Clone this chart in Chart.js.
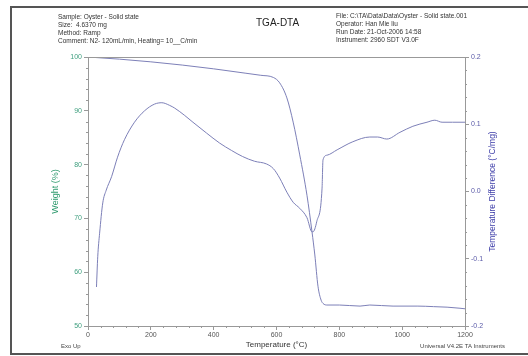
<!DOCTYPE html>
<html>
<head>
<meta charset="utf-8">
<script src="https://cdn.jsdelivr.net/npm/chart.js@4"></script>
<style>
html, body { margin: 0; padding: 0; background: #fff; }
#wrap { position: relative; width: 528px; height: 356px; }
</style>
</head>
<body>
<div id="wrap"><canvas id="chart_tgaDta" width="528" height="356"></canvas></div>
<script>
// TGA curve (weight, left axis)
var tgaTemp = [0, 100, 200, 300, 400, 500, 550, 590, 610, 633, 653, 674, 697, 713, 722, 732, 742, 748, 760, 800, 866, 897, 971, 1050, 1100, 1143, 1184, 1200];
var tgaWeight = [100, 99.6, 99.1, 98.5, 97.8, 97.0, 96.6, 96.2, 95.2, 92.4, 87.9, 81.8, 74.3, 67.5, 63.2, 57.4, 54.8, 54.2, 53.9, 53.9, 53.7, 53.9, 53.7, 53.7, 53.6, 53.5, 53.3, 53.2];

// DTA curve (temperature difference, right axis)
var dtaTemp = [27, 31, 37, 47, 58, 75, 94, 116, 148, 180, 212, 235, 260, 276, 308, 334, 377, 419, 457, 492, 530, 568, 590, 610, 633, 653, 674, 697, 713, 716, 728, 745, 748, 761, 793, 843, 897, 922, 951, 993, 1034, 1079, 1104, 1127, 1160, 1200];
var dtaDiff = [-0.142, -0.097, -0.062, -0.017, 0.002, 0.022, 0.051, 0.077, 0.103, 0.120, 0.130, 0.132, 0.128, 0.124, 0.113, 0.103, 0.087, 0.072, 0.061, 0.052, 0.045, 0.041, 0.034, 0.020, -0.001, -0.016, -0.025, -0.039, -0.060, -0.060, -0.045, 0.005, 0.047, 0.054, 0.062, 0.074, 0.081, 0.081, 0.078, 0.088, 0.097, 0.103, 0.106, 0.103, 0.103, 0.103];

var tempTicks = [0, 200, 400, 600, 800, 1000, 1200];
var weightTicks = [50, 60, 70, 80, 90, 100];
var dtaTicks = [-0.2, -0.1, 0, 0.1, 0.2];

var headerLeft = ['Sample: Oyster - Solid state', 'Size:  4.6370 mg', 'Method: Ramp', 'Comment: N2- 120mL/min, Heating= 10__C/min'];
var headerRight = ['File: C:\\TA\\Data\\Data\\Oyster - Solid state.001', 'Operator: Han Mie liu', 'Run Date: 21-Oct-2006 14:58', 'Instrument: 2960 SDT V3.0F'];

Chart.defaults.font.family = '"Liberation Sans", Arial, sans-serif';

function toPoints(xs, ys) {
    return xs.map(function (x, i) { return { x: x, y: ys[i] }; });
}

function minorTicks(ctx, scale, from, to, step, majors, side) {
    var area = scale.chart.chartArea;
    for (var v = from; v <= to + step / 2; v += step) {
        var val = Math.round(v * 1000) / 1000;
        if (majors.indexOf(val) >= 0) continue;
        var p = Math.round(scale.getPixelForValue(val)) + 0.5;
        ctx.beginPath();
        if (side === 'bottom') { ctx.moveTo(p, area.bottom); ctx.lineTo(p, area.bottom + 2); }
        if (side === 'left') { ctx.moveTo(area.left, p); ctx.lineTo(area.left - 2, p); }
        if (side === 'right') { ctx.moveTo(area.right, p); ctx.lineTo(area.right + 2, p); }
        ctx.stroke();
    }
}

var decorPlugin = {
    id: 'decor',
    beforeDraw: function (chart) {
        var ctx = chart.ctx;
        ctx.save();
        ctx.fillStyle = '#fff';
        ctx.fillRect(0, 0, chart.width, chart.height);
        ctx.strokeStyle = '#555';
        ctx.lineWidth = 2;
        ctx.beginPath();
        ctx.moveTo(532, 7);
        ctx.lineTo(11, 7);
        ctx.lineTo(11, 354);
        ctx.lineTo(532, 354);
        ctx.stroke();
        ctx.restore();
    },
    afterDraw: function (chart) {
        var ctx = chart.ctx;
        var area = chart.chartArea;
        ctx.save();
        // top border of plot
        ctx.strokeStyle = '#999';
        ctx.lineWidth = 1;
        ctx.beginPath();
        ctx.moveTo(area.left, area.top + 0.5);
        ctx.lineTo(area.right, area.top + 0.5);
        ctx.stroke();
        minorTicks(ctx, chart.scales.x, 0, 1200, 40, tempTicks, 'bottom');
        minorTicks(ctx, chart.scales.y, 50, 100, 2, weightTicks, 'left');
        minorTicks(ctx, chart.scales.y2, -0.2, 0.2, 0.02, dtaTicks, 'right');

        // header
        ctx.fillStyle = '#333';
        ctx.textBaseline = 'middle';
        ctx.font = '6.5px "Liberation Sans", Arial, sans-serif';
        headerLeft.forEach(function (t, i) { ctx.fillText(t, 58, 17 + i * 8); });
        headerRight.forEach(function (t, i) { ctx.fillText(t, 336, 16 + i * 8); });
        ctx.font = '10px "Liberation Sans", Arial, sans-serif';
        ctx.fillStyle = '#222';
        ctx.fillText('TGA-DTA', 256, 23);

        // footer
        ctx.fillStyle = '#444';
        ctx.font = '6px "Liberation Sans", Arial, sans-serif';
        ctx.fillText('Exo Up', 61, 346);
        ctx.textAlign = 'right';
        ctx.fillText('Universal V4.2E TA Instruments', 505, 346);

        // right axis title, reading upward
        ctx.translate(493, (area.top + area.bottom) / 2);
        ctx.rotate(-Math.PI / 2);
        ctx.textAlign = 'center';
        ctx.fillStyle = '#3c3ca8';
        ctx.font = '8.5px "Liberation Sans", Arial, sans-serif';
        ctx.fillText('Temperature Difference (\u00b0C/mg)', 0, 0);
        ctx.restore();
    }
};

var lineColor = '#7d80b8';

var chart_tgaDta = new Chart(document.getElementById('chart_tgaDta'), {
    type: 'line',
    data: {
        datasets: [
            {
                label: 'Weight',
                data: toPoints(tgaTemp, tgaWeight),
                yAxisID: 'y',
                borderColor: lineColor,
                borderWidth: 1,
                pointRadius: 0,
                cubicInterpolationMode: 'monotone'
            },
            {
                label: 'Temperature Difference',
                data: toPoints(dtaTemp, dtaDiff),
                yAxisID: 'y2',
                borderColor: lineColor,
                borderWidth: 1,
                pointRadius: 0,
                cubicInterpolationMode: 'monotone'
            }
        ]
    },
    options: {
        animation: false,
        responsive: false,
        devicePixelRatio: 1,
        layout: { padding: { left: 48, right: 28, top: 57, bottom: 4 } },
        plugins: {
            legend: { display: false },
            tooltip: { enabled: false }
        },
        scales: {
            x: {
                type: 'linear',
                min: 0,
                max: 1200,
                afterBuildTicks: function (s) { s.ticks = tempTicks.map(function (v) { return { value: v }; }); },
                afterFit: function (s) { s.height = 26; },
                ticks: {
                    color: '#555',
                    font: { size: 7 },
                    padding: 1,
                    maxRotation: 0,
                    callback: function (v) { return String(v); }
                },
                grid: { drawOnChartArea: false, tickLength: 4, color: '#999' },
                border: { color: '#999' },
                title: { display: true, text: 'Temperature (\u00b0C)', color: '#333', font: { size: 8 }, padding: { top: 0, bottom: 2 } }
            },
            y: {
                position: 'left',
                min: 50,
                max: 100,
                afterBuildTicks: function (s) { s.ticks = weightTicks.map(function (v) { return { value: v }; }); },
                afterFit: function (s) { s.width = 40; },
                ticks: { color: '#3f9f7f', font: { size: 7 }, padding: 2 },
                grid: { drawOnChartArea: false, tickLength: 4, color: '#999' },
                border: { color: '#999' },
                title: { display: true, text: 'Weight (%)', color: '#2f9a6e', font: { size: 9 }, padding: { top: 2, bottom: 0 } }
            },
            y2: {
                position: 'right',
                min: -0.2,
                max: 0.2,
                afterBuildTicks: function (s) { s.ticks = dtaTicks.map(function (v) { return { value: v }; }); },
                afterFit: function (s) { s.width = 35; },
                ticks: {
                    color: '#5a5aa8',
                    font: { size: 7 },
                    padding: 2,
                    callback: function (v) { return Number(v).toFixed(1); }
                },
                grid: { drawOnChartArea: false, tickLength: 4, color: '#999' },
                border: { color: '#999' }
            }
        }
    },
    plugins: [decorPlugin]
});
</script>
</body>
</html>
